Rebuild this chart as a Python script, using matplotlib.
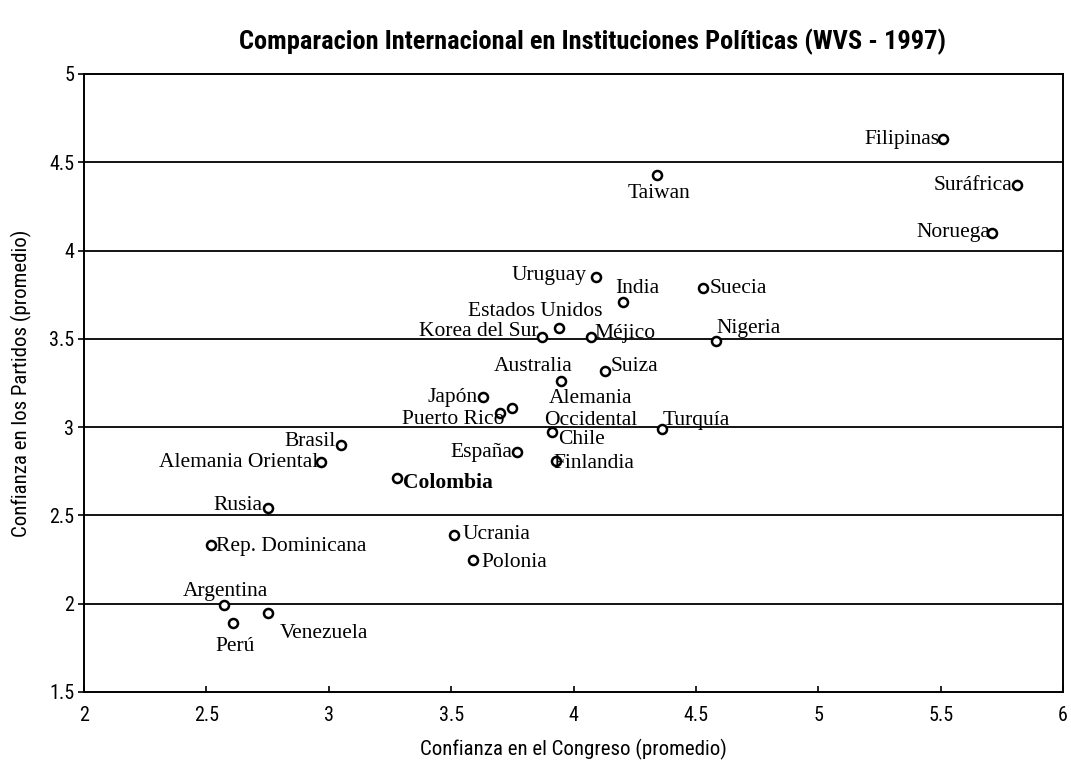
import matplotlib
matplotlib.use("Agg")
import matplotlib.pyplot as plt

# datos (promedios WVS 1997)
paises = ["Filipinas", "Surafrica", "Noruega", "Taiwan", "Uruguay", "India",
          "Suecia", "Estados Unidos", "Korea del Sur", "Méjico", "Nigeria",
          "Suiza", "Australia", "Japón", "Puerto Rico", "Alemania Occidental",
          "Chile", "Turquía", "España", "Finlandia", "Colombia", "Brasil",
          "Alemania Oriental", "Rusia", "Rep. Dominicana", "Ucrania", "Polonia",
          "Argentina", "Perú", "Venezuela"]
etiquetas = ["Filipinas", "Suráfrica", "Noruega", "Taiwan", "Uruguay", "India",
             "Suecia", "Estados Unidos", "Korea del Sur", "Méjico", "Nigeria",
             "Suiza", "Australia", "Japón", "Puerto Rico", "Alemania\nOccidental",
             "Chile", "Turquía", "España", "Finlandia", "Colombia", "Brasil",
             "Alemania Oriental", "Rusia", "Rep. Dominicana", "Ucrania", "Polonia",
             "Argentina", "Perú", "Venezuela"]
congreso = [5.51, 5.81, 5.71, 4.34, 4.09, 4.20, 4.53, 3.94, 3.87, 4.07, 4.58,
            4.13, 3.95, 3.63, 3.70, 3.75, 3.91, 4.36, 3.77, 3.93, 3.28, 3.05,
            2.97, 2.75, 2.52, 3.51, 3.59, 2.57, 2.61, 2.75]
partidos = [4.63, 4.37, 4.10, 4.43, 3.85, 3.71, 3.79, 3.56, 3.51, 3.51, 3.49,
            3.32, 3.26, 3.17, 3.08, 3.11, 2.97, 2.99, 2.86, 2.81, 2.71, 2.90,
            2.80, 2.54, 2.33, 2.39, 2.25, 1.99, 1.89, 1.95]

# posicion de cada etiqueta respecto del punto (pixeles, ha)
pos_etiqueta = {
    "Filipinas": (-4, 0, "right"), "Surafrica": (-4, 0, "right"),
    "Noruega": (-2, 0, "right"), "Taiwan": (2, -19, "center"),
    "Uruguay": (-9, 2, "right"), "India": (-7, 13, "left"),
    "Suecia": (6, -1, "left"), "Estados Unidos": (-24, 17, "center"),
    "Korea del Sur": (-3, 6, "right"), "Méjico": (4, 4, "left"),
    "Nigeria": (1, 12, "left"), "Suiza": (5, 4, "left"),
    "Australia": (-28, 15, "center"), "Japón": (-5, 0, "right"),
    "Puerto Rico": (4, -7, "right"), "Alemania Occidental": (78, -2, "center"),
    "Chile": (7, -7, "left"), "Turquía": (1, 8, "left"),
    "España": (-5, -1, "right"), "Finlandia": (-3, -3, "left"),
    "Colombia": (6, -5, "left"), "Brasil": (-5, 3, "right"),
    "Alemania Oriental": (-3, 0, "right"), "Rusia": (-5, 3, "right"),
    "Rep. Dominicana": (5, -1, "left"), "Ucrania": (9, 0, "left"),
    "Polonia": (8, -3, "left"), "Argentina": (2, 14, "center"),
    "Perú": (2, -23, "center"), "Venezuela": (12, -21, "left"),
}

fig = plt.figure(figsize=(10.71, 7.61), dpi=100)
ax = fig.add_axes([0.0785, 0.0907, 0.9141, 0.8121])

fuente_sans = ["Roboto Condensed", "Roboto", "DejaVu Sans"]
fuente_serif = ["Liberation Serif", "DejaVu Serif"]

for y in [2, 2.5, 3, 3.5, 4, 4.5]:
    ax.axhline(y, color="black", linewidth=1.3, zorder=1)

ax.plot(congreso, partidos, linestyle="none", marker="o", markersize=6.5,
        markerfacecolor="white", markeredgecolor="black", markeredgewidth=1.8,
        zorder=3)

for pais, etq, x, y in zip(paises, etiquetas, congreso, partidos):
    dx, dy, ha = pos_etiqueta[pais]
    ax.annotate(etq, (x, y), xytext=(dx, dy), textcoords="offset pixels",
                ha=ha, va="center", fontsize=15.5, family=fuente_serif,
                fontweight="bold" if pais == "Colombia" else "normal",
                linespacing=1.25, multialignment="center", zorder=4)

ax.set_xlim(2, 6)
ax.set_ylim(1.5, 5)
ax.set_xticks([2, 2.5, 3, 3.5, 4, 4.5, 5, 5.5, 6])
ax.set_xticklabels(["2", "2.5", "3", "3.5", "4", "4.5", "5", "5.5", "6"])
ax.set_yticks([1.5, 2, 2.5, 3, 3.5, 4, 4.5, 5])
ax.set_yticklabels(["1.5", "2", "2.5", "3", "3.5", "4", "4.5", "5"])

for lab in ax.get_xticklabels() + ax.get_yticklabels():
    lab.set_family(fuente_sans)
    lab.set_fontsize(14.5)
ax.tick_params(axis="x", direction="in", length=4, width=1.2, pad=10)
ax.tick_params(axis="y", direction="out", length=4, width=1.2, pad=3)

for lado in ["left", "bottom", "right", "top"]:
    ax.spines[lado].set_linewidth(1.4)
    ax.spines[lado].set_color("black")

ax.set_xlabel("Confianza en el Congreso (promedio)", family=fuente_sans,
              fontsize=15, labelpad=10)
ax.set_ylabel("Confianza en los Partidos (promedio)", family=fuente_sans,
              fontsize=15, labelpad=12)

fig.text(0.553, 0.945, "Comparacion Internacional en Instituciones Políticas (WVS - 1997)",
         ha="center", va="center", fontsize=19, fontweight="bold", family=fuente_sans)

fig.savefig("out.png", dpi=100)
